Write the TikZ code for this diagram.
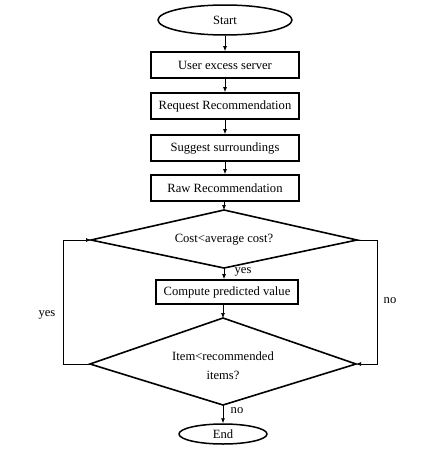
\documentclass[tikz,border=0pt]{standalone}
\usepackage{fontspec}
\setmainfont{Liberation Serif}
\usetikzlibrary{shapes.geometric,arrows.meta}
\begin{document}
\begin{tikzpicture}[x=1pt,y=-1pt,
  box/.style={draw,line width=1.8pt,minimum width=148pt,minimum height=26pt,inner sep=0pt,font=\fontsize{12.6}{14}\selectfont},
  term/.style={draw,ellipse,line width=1.5pt,inner sep=0pt,font=\fontsize{12.6}{14}\selectfont},
  dec/.style={draw,line width=1.6pt},
  conn/.style={line width=0.7pt,-{Latex[length=5pt,width=4pt]}},
  lbl/.style={font=\fontsize{12.6}{14}\selectfont,inner sep=0pt}]
\useasboundingbox (0,0) rectangle (444,471);
\node[term,minimum width=134pt,minimum height=30pt] (start) at (225,20) {Start};
\node[box] (b1) at (225,65) {User excess server};
\node[box] (b2) at (225,106) {Request Recommendation};
\node[box] (b3) at (225,148) {Suggest surroundings};
\node[box] (b4) at (225,188) {Raw Recommendation};
\coordinate (d1t) at (224,210);
\coordinate (d1l) at (91,240);
\coordinate (d1r) at (357,240);
\coordinate (d1b) at (224,268);
\draw[dec] (d1t) -- (d1r) -- (d1b) -- (d1l) -- cycle;
\node[lbl] (d1) at (224,240) {Cost<average cost?};
\node[box,minimum width=142pt,minimum height=24pt] (b5) at (227,292) {Compute predicted value};
\coordinate (d2t) at (223,318);
\coordinate (d2l) at (90,364);
\coordinate (d2r) at (356,364);
\coordinate (d2b) at (223,405);
\draw[dec] (d2t) -- (d2r) -- (d2b) -- (d2l) -- cycle;
\node[lbl,align=center,font=\fontsize{12.6}{19}\selectfont] (d2) at (223,366) {Item<recommended\\items?};
\node[term,minimum width=88pt,minimum height=20pt] (end) at (223,434) {End};
\draw[conn] (start) -- (b1);
\draw[conn] (b1) -- (b2);
\draw[conn] (b2) -- (b3);
\draw[conn] (b3) -- (b4);
\draw[conn] (b4.south -| d1t) -- (d1t);
\draw[conn] (d1b) -- (d1b |- b5.north);
\draw[conn] (b5.south -| d2t) -- (d2t);
\draw[conn] (d2b) -- (end);
\coordinate (ll) at (63,364);
\coordinate (lu) at (63,240);
\draw[conn] (d2l) -- (ll) -- (lu) -- (d1l);
\coordinate (ru) at (377,240);
\coordinate (rl) at (377,364);
\draw[conn] (d1r) -- (ru) -- (rl) -- (d2r);
\node[lbl] (y1) at (243,272) {yes};
\node[lbl] (y2) at (47,315) {yes};
\node[lbl] (n1) at (390,301) {no};
\node[lbl] (n2) at (237,411) {no};
\end{tikzpicture}
\end{document}
